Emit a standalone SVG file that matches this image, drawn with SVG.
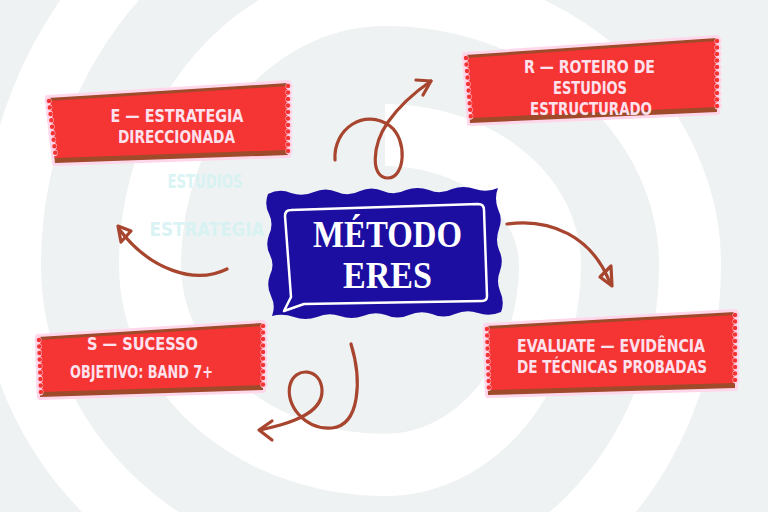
<svg xmlns="http://www.w3.org/2000/svg" width="768" height="512" viewBox="0 0 768 512">
<style>
.halo{fill:#ffd6ea;stroke:#ffd6ea;stroke-width:6;stroke-linejoin:round}
.brown{fill:#9e4a2b}
.red{fill:#f53434}
.scal{stroke:#f53434;stroke-width:4.5;stroke-linecap:round;stroke-dasharray:0 6.5;fill:none}
.scalp{stroke:#ffd6ea;stroke-width:7;stroke-linecap:round;stroke-dasharray:0 6.5;fill:none}
.lbl{font-family:"Liberation Sans Narrow","DejaVu Sans Condensed","Roboto","Liberation Sans",sans-serif;font-weight:bold;font-size:18px;fill:#fde2ee;text-anchor:middle;font-stretch:condensed}
.sm{font-size:17px}
.title{font-family:"Liberation Serif","DejaVu Serif",serif;font-weight:bold;font-size:38px;fill:#ffffff;text-anchor:middle}
.arr{fill:none;stroke:#a8452f;stroke-width:3.2;stroke-linecap:round;stroke-linejoin:round}
.ghost{font-family:"Liberation Sans Narrow","DejaVu Sans Condensed","Liberation Sans",sans-serif;font-weight:bold;font-size:20px;fill:#d6f3f4;text-anchor:middle}
</style>
<rect x="0" y="0" width="768" height="512" fill="#eff2f2"/>
<path d="M385,135 A165,130 0 0,1 550,265 A165,200 0 0,1 385,465 A235,200 0 0,1 150,265 A235,270 0 0,1 385,-5 A305,270 0 0,1 690,265 A305,340 0 0,1 385,605 A375,340 0 0,1 10,265 A375,410 0 0,1 385,-145" fill="none" stroke="#ffffff" stroke-width="62"/>
<g id="ghosts" opacity="0.9">
<text class="ghost" x="205" y="188" textLength="75" lengthAdjust="spacingAndGlyphs">ESTUDIOS</text>
<text class="ghost" x="207" y="236" textLength="115" lengthAdjust="spacingAndGlyphs">ESTRATEGIA</text>
</g>
<g id="connectors">
<path class="arr" d="M335,160 C333,128 365,108 390,126 C408,140 405,178 388,178 C370,178 372,145 388,122 C400,105 415,92 431,81"/>
<path class="arr" d="M416,80 L431,81 L423,95"/>
<path class="arr" d="M507,224 C550,218 592,236 610,283"/>
<path class="arr" d="M600,277 L611,266 L612,286 Z"/>
<path class="arr" d="M227,269 C195,285 150,270 119,229"/>
<path class="arr" d="M118,226 L131,231 L121,242 Z"/>
<path class="arr" d="M351,344 C362,380 360,425 332,428 C305,430 285,405 290,385 C295,366 321,368 322,390 C323,410 300,422 260,430"/>
<path class="arr" d="M272,421 L259,430 L272,440"/>
</g>
<g id="node-e">
<polygon class="halo" points="48,98 288,83 288,155 55,163"/>
<polygon class="brown" points="48,98 288,83 288,155 55,163"/>
<polygon class="red" points="48,101 288,86 288,150 55,158"/>
<line class="scalp" x1="289" y1="86" x2="289" y2="153"/>
<line class="scal" x1="288" y1="86" x2="288" y2="153"/>
<line class="scalp" x1="48" y1="101" x2="55" y2="159"/>
<line class="scal" x1="49" y1="101" x2="56" y2="159"/>
<text class="lbl" x="177" y="122" textLength="133" lengthAdjust="spacingAndGlyphs">E — ESTRATEGIA</text>
<text class="lbl" x="176.5" y="143" textLength="117" lengthAdjust="spacingAndGlyphs">DIRECCIONADA</text>
</g>
<g id="node-r">
<polygon class="halo" points="465,55 717,38 717,112 470,123"/>
<polygon class="brown" points="465,55 717,38 717,112 470,123"/>
<polygon class="red" points="465,58 717,41 717,107 470,118"/>
<line class="scalp" x1="718" y1="41" x2="718" y2="110"/>
<line class="scal" x1="717" y1="41" x2="717" y2="110"/>
<line class="scalp" x1="465" y1="58" x2="470" y2="119"/>
<line class="scal" x1="466" y1="58" x2="471" y2="119"/>
<text class="lbl" x="589.5" y="73" textLength="131" lengthAdjust="spacingAndGlyphs">R — ROTEIRO DE</text>
<text class="lbl" x="590" y="94" textLength="74" lengthAdjust="spacingAndGlyphs">ESTUDIOS</text>
<text class="lbl" x="591" y="115" textLength="122" lengthAdjust="spacingAndGlyphs">ESTRUCTURADO</text>
</g>
<g id="node-evaluate">
<polygon class="halo" points="486,326 735,312 735,388 488,395"/>
<polygon class="brown" points="486,326 735,312 735,388 488,395"/>
<polygon class="red" points="486,329 735,315 735,383 488,390"/>
<line class="scalp" x1="736" y1="315" x2="736" y2="386"/>
<line class="scal" x1="735" y1="315" x2="735" y2="386"/>
<line class="scalp" x1="486" y1="329" x2="488" y2="391"/>
<line class="scal" x1="487" y1="329" x2="489" y2="391"/>
<text class="lbl sm" x="611" y="352" textLength="188" lengthAdjust="spacingAndGlyphs">EVALUATE — EVIDÊNCIA</text>
<text class="lbl sm" x="612" y="373" textLength="190" lengthAdjust="spacingAndGlyphs">DE TÉCNICAS PROBADAS</text>
</g>
<g id="node-s">
<polygon class="halo" points="38,337 263,323 263,390 40,397"/>
<polygon class="brown" points="38,337 263,323 263,390 40,397"/>
<polygon class="red" points="38,340 263,326 263,385 40,392"/>
<line class="scalp" x1="264" y1="326" x2="264" y2="388"/>
<line class="scal" x1="263" y1="326" x2="263" y2="388"/>
<line class="scalp" x1="38" y1="340" x2="40" y2="393"/>
<line class="scal" x1="39" y1="340" x2="41" y2="393"/>
<text class="lbl" x="142.5" y="350" textLength="111" lengthAdjust="spacingAndGlyphs">S — SUCESSO</text>
<text class="lbl" x="141.5" y="378" textLength="143" lengthAdjust="spacingAndGlyphs">OBJETIVO: BAND 7+</text>
</g>
<g id="node-center">
<path fill="#1c0ea0" d="M268,194 Q279.5,188 291,193 Q302.5,197 314,192 Q325.5,187 337,192 Q348.5,197 360,191 Q371.5,186 383,191 Q394.5,196 406,190 Q417.5,186 429,190 Q440.5,195 452,189 Q463.5,185 475,189 Q486.5,193 498,188 Q494,198 498,209 Q503,219 499,229 Q495,240 499,250 Q504,260 500,271 Q496,281 500,291 Q505,302 501,312 Q489.5,317 478,313 Q466.5,309 455,314 Q443.5,319 432,314 Q420.5,310 409,315 Q397.5,320 386,315 Q374.5,311 363,316 Q351.5,320 340,316 Q328.5,312 317,317 Q305.5,321 294,317 Q283,313 272,316 Q276,306 271,296 Q266,286 270,275 Q275,265 270,255 Q265,245 269,235 Q274,224 269,214 Q264,204 268,194 Z"/>
<path fill="none" stroke="#ffffff" stroke-width="2.5" stroke-linejoin="round" d="M291,210 L478,204 Q484,204 484,210 L487,296 Q487,301 482,301 L304,304 L284,311 L291,297 L285,216 Q285,210 291,210 Z"/>
<text class="title" x="387.5" y="247" textLength="149" lengthAdjust="spacingAndGlyphs">MÉTODO</text>
<text class="title" x="387.5" y="288" textLength="89" lengthAdjust="spacingAndGlyphs">ERES</text>
</g>
</svg>
